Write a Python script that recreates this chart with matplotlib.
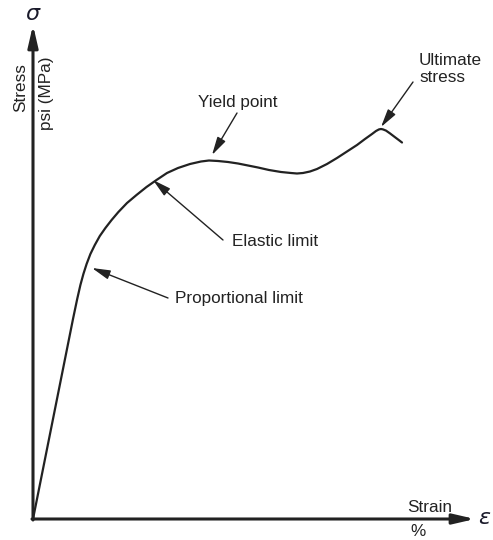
import matplotlib
matplotlib.use("Agg")
from matplotlib import pyplot as plt

plt.rcParams['font.family'] = ['Liberation Sans', 'DejaVu Sans']

# stress-strain curve, arbitrary units (origin at the axes corner)
strain = [0, 40, 44.2, 47.4, 50.4, 53.6, 57.4, 61.8, 66.8, 72.4, 78.6, 85.4, 94,
          103.5, 113.5, 123.5, 134, 145, 157, 168, 176, 185, 195, 205, 215, 225,
          236, 248, 258, 264, 270, 277, 284, 294, 304, 314, 324, 332, 339, 343,
          346, 348, 350, 353, 357, 362, 366, 369]
stress = [0, 200, 220, 234, 245, 255, 265, 274, 283, 291, 299, 307, 316,
          324, 332, 339, 346, 351, 355, 357.5, 358.5, 358, 357, 355.5, 353.5, 351.5,
          349, 347, 346, 345.5, 346, 347.5, 350, 355, 361, 367.5, 374, 380, 385, 388,
          389.6, 390, 389.6, 388.4, 385.6, 381.8, 378.8, 376.5]

# annotated points: label, arrow head (strain, stress), arrow tail, text position
labels = ["Yield point", "Ultimate\nstress", "Elastic limit", "Proportional limit"]
heads = [(179, 364), (348, 392), (120, 339), (59, 251)]
tails = [(204, 406), (380, 437), (190, 279), (135, 221)]
text_pos = [(205, 417), (386, 466), (199, 278), (142, 220)]
text_ha = ["center", "left", "left", "left"]
text_va = ["center", "top", "center", "center"]

fig = plt.figure(figsize=(4.93, 5.40), dpi=100)
ax = fig.add_axes([0, 0, 1, 1])
ax.set_xlim(-33, 460)
ax.set_ylim(-21, 519)
ax.axis("off")

ink = "#222222"

# axes with arrow heads
ax.annotate("", xy=(442, 0), xytext=(-1, 0),
            arrowprops=dict(arrowstyle="-|>,head_length=1.3,head_width=0.3",
                            color=ink, lw=2.2, shrinkA=0, shrinkB=0))
ax.annotate("", xy=(0, 494), xytext=(0, -1),
            arrowprops=dict(arrowstyle="-|>,head_length=1.3,head_width=0.3",
                            color=ink, lw=2.2, shrinkA=0, shrinkB=0))

ax.text(0, 505, r"$\sigma$", fontsize=16, color="#1a1a2a", ha="center", va="center")
ax.text(452, 0, r"$\varepsilon$", fontsize=16, color="#1a1a2a", ha="center", va="center")
ax.text(-12, 431, "Stress", rotation=90, fontsize=12.3, color=ink, ha="center", va="center")
ax.text(14, 426, "psi (MPa)", rotation=90, fontsize=12.3, color=ink, ha="center", va="center")
ax.text(397, 12, "Strain", fontsize=12.3, color=ink, ha="center", va="center")
ax.text(385, -13, "%", fontsize=12.3, color=ink, ha="center", va="center")

ax.plot(strain, stress, color=ink, lw=1.6, solid_capstyle="round", solid_joinstyle="round")

for lab, h, t, p, ha, va in zip(labels, heads, tails, text_pos, text_ha, text_va):
    ax.annotate("", xy=h, xytext=t,
                arrowprops=dict(arrowstyle="-|>,head_length=1.1,head_width=0.28",
                                color=ink, lw=1.0, shrinkA=0, shrinkB=0))
    ax.text(p[0], p[1], lab, fontsize=12.3, color=ink, ha=ha, va=va, linespacing=1.15)

fig.savefig("out.png", dpi=100)
